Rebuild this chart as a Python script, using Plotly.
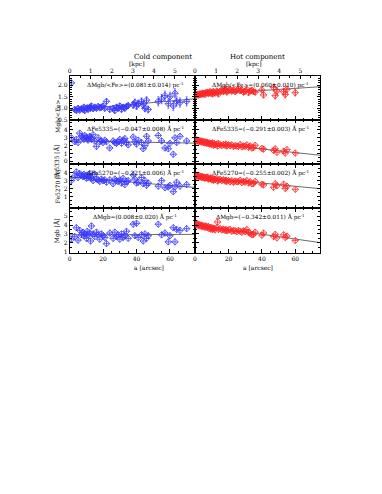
import plotly.graph_objects as go

# ---------------- data ----------------
ARCSEC_PER_KPC = 12.6
X_RANGE = [0, 75]

cold_a = [1, 3, 4, 5, 6, 7, 8, 8.5, 9, 10,
          10.5, 11, 12, 12.5, 13, 14, 15, 16, 17, 18,
          19, 20, 21, 22, 24, 26, 27, 28, 29, 30,
          31, 32, 33, 34, 35, 38, 39, 40, 41, 43,
          44, 45, 46, 47, 53, 55, 57, 59, 60, 62,
          63, 64, 66, 70]
cold_mgbfe = [2.1, 0.95, 0.9, 1.0, 0.92, 0.98, 0.95, 1.05, 0.9, 1.0,
              1.02, 0.95, 1.05, 1.0, 1.1, 0.98, 1.05, 1.0, 1.08, 1.02,
              1.05, 1.1, 1.0, 1.3, 0.95, 1.0, 0.9, 1.05, 1.0, 1.1,
              0.95, 1.05, 1.0, 1.08, 1.12, 1.15, 1.25, 1.1, 1.2, 1.3,
              1.15, 1.0, 1.35, 0.95, 1.3, 1.4, 1.55, 1.2, 1.5, 1.1,
              1.65, 1.3, 1.25, 1.3]
cold_mgbfe_err = [0.12, 0.08, 0.08, 0.08, 0.08, 0.08, 0.08, 0.08, 0.08, 0.08,
                  0.08, 0.08, 0.08, 0.08, 0.08, 0.08, 0.08, 0.08, 0.08, 0.08,
                  0.1, 0.1, 0.1, 0.1, 0.1, 0.1, 0.1, 0.1, 0.1, 0.1,
                  0.1, 0.1, 0.1, 0.1, 0.1, 0.15, 0.15, 0.15, 0.15, 0.15,
                  0.15, 0.15, 0.15, 0.15, 0.2, 0.2, 0.2, 0.2, 0.2, 0.2,
                  0.2, 0.2, 0.2, 0.2]
cold_fe5335 = [3.0, 2.5, 2.8, 2.4, 3.6, 3.2, 3.0, 2.8, 3.3, 3.1,
               2.9, 2.7, 3.2, 3.0, 2.8, 3.4, 2.6, 1.9, 3.0, 2.5,
               2.6, 2.4, 2.7, 2.5, 1.7, 2.6, 2.4, 2.3, 2.5, 2.8,
               2.3, 2.7, 2.9, 2.4, 2.1, 3.1, 2.5, 2.2, 2.7, 2.4,
               1.6, 2.0, 3.2, 2.6, 3.3, 2.6, 1.7, 1.6, 2.3, 0.9,
               3.0, 2.4, 3.2, 2.6]
cold_fe5270 = [3.0, 3.6, 4.1, 3.4, 3.9, 3.7, 3.5, 3.8, 3.6, 3.3,
               3.7, 3.4, 3.9, 3.5, 3.3, 3.0, 3.8, 3.2, 3.1, 2.9,
               3.2, 3.0, 3.1, 2.8, 3.1, 2.6, 3.2, 3.0, 2.9, 3.1,
               2.7, 3.3, 2.5, 2.9, 3.0, 3.7, 3.2, 2.7, 2.8, 3.4,
               2.6, 3.0, 2.4, 2.7, 2.3, 3.0, 2.1, 2.2, 2.4, 1.6,
               2.2, 2.8, 2.3, 2.5]
cold_mgb = [2.4, 2.7, 3.7, 2.3, 3.4, 2.9, 3.2, 2.8, 3.0, 2.5,
            3.3, 2.9, 3.1, 2.2, 3.9, 3.0, 2.7, 3.2, 2.9, 2.4,
            3.0, 2.8, 2.6, 1.9, 3.1, 2.5, 3.2, 2.7, 2.9, 2.4,
            3.0, 2.6, 2.8, 3.3, 2.5, 4.1, 2.8, 4.2, 2.6, 2.9,
            2.2, 3.0, 2.5, 2.8, 4.1, 2.9, 3.1, 2.1, 2.8, 3.7,
            2.1, 3.5, 3.4, 3.6]

hot_a = [0.5, 1, 1.5, 2, 2.5, 3, 3.5, 4, 4.5, 5,
         5.5, 6, 6.5, 7, 7.5, 8, 8.5, 9, 9.5, 10,
         10.5, 11, 11.5, 12, 13, 13.5, 14, 15, 16, 17,
         18, 18.5, 19, 20, 21, 22, 23, 24, 25, 26,
         27, 28, 29, 30, 31, 32, 33, 34, 35, 36,
         40, 41, 47, 48, 49, 53, 54, 55, 60]
hot_mgbfe = [1.55, 1.58, 1.60, 1.57, 1.62, 1.60, 1.63, 1.61, 1.66, 1.62,
             1.65, 1.60, 1.68, 1.66, 1.70, 1.64, 1.67, 1.72, 1.65, 1.70,
             1.62, 1.73, 1.68, 1.66, 1.75, 1.70, 1.62, 1.74, 1.80, 1.72,
             1.85, 1.78, 1.70, 1.76, 1.82, 1.74, 1.80, 1.72, 1.78, 1.85,
             1.76, 1.80, 1.70, 1.74, 1.82, 1.68, 1.75, 1.78, 1.72, 1.70,
             1.80, 1.58, 1.90, 1.55, 1.75, 1.72, 1.60, 1.82, 1.68]
hot_mgbfe_err = [0.05, 0.05, 0.05, 0.05, 0.05, 0.05, 0.05, 0.05, 0.05, 0.05,
                 0.05, 0.05, 0.05, 0.05, 0.05, 0.05, 0.05, 0.05, 0.05, 0.05,
                 0.06, 0.06, 0.06, 0.06, 0.06, 0.06, 0.06, 0.06, 0.07, 0.07,
                 0.07, 0.07, 0.07, 0.08, 0.08, 0.08, 0.08, 0.08, 0.08, 0.08,
                 0.09, 0.09, 0.09, 0.09, 0.09, 0.1, 0.1, 0.1, 0.1, 0.1,
                 0.12, 0.12, 0.15, 0.15, 0.15, 0.15, 0.15, 0.15, 0.15]
hot_fe5335 = [2.75, 2.6, 2.7, 2.55, 2.65, 2.5, 2.6, 2.45, 2.55, 2.4,
              2.5, 2.35, 2.45, 2.3, 2.4, 2.25, 2.35, 2.2, 2.3, 2.15,
              2.35, 2.05, 2.25, 2.1, 2.2, 1.95, 2.3, 2.1, 2.0, 2.15,
              2.05, 2.2, 1.95, 2.1, 2.0, 2.1, 1.9, 2.0, 1.95, 1.9,
              2.15, 1.85, 1.95, 1.9, 2.1, 1.8, 1.95, 1.7, 1.75, 2.05,
              1.65, 1.55, 1.4, 1.6, 1.15, 1.3, 1.05, 1.5, 1.05]
hot_fe5270 = [3.7, 3.55, 3.65, 3.5, 3.6, 3.45, 3.55, 3.4, 3.5, 3.35,
              3.45, 3.3, 3.4, 3.35, 3.45, 3.2, 3.3, 3.25, 3.35, 3.1,
              3.3, 3.05, 3.2, 3.15, 3.25, 2.95, 3.1, 3.15, 3.0, 3.1,
              2.95, 3.05, 2.9, 3.0, 2.85, 3.0, 2.8, 2.95, 2.85, 2.9,
              3.05, 2.75, 2.9, 2.8, 3.0, 2.7, 2.85, 2.6, 2.65, 2.9,
              2.55, 2.45, 2.15, 2.6, 2.35, 2.55, 2.0, 2.3, 1.9]
hot_mgb = [4.1, 4.0, 4.15, 3.95, 4.05, 3.9, 4.0, 3.85, 3.95, 3.8,
           3.9, 3.75, 3.9, 3.8, 3.7, 3.85, 3.6, 3.75, 3.55, 3.7,
           3.5, 3.65, 3.6, 3.45, 3.7, 4.35, 3.5, 3.6, 3.45, 3.55,
           3.4, 3.5, 3.35, 3.45, 3.5, 3.3, 3.4, 3.35, 3.25, 3.4,
           3.3, 3.2, 3.35, 3.25, 3.5, 3.15, 3.05, 2.9, 2.95, 3.2,
           2.85, 3.1, 2.7, 2.95, 2.55, 2.9, 2.6, 2.75, 2.25]

row_titles = ["Mgb/&lt;Fe&gt;", "Fe5335 [Å]", "Fe5270 [Å]", "Mgb [Å]"]
row_names = ["Mgb/&lt;Fe&gt;", "Fe5335", "Fe5270", "Mgb"]
row_units = ["", " Å", " Å", " Å"]
y_ranges = [[0.5, 2.42], [-0.35, 5.3], [-0.5, 5.1], [0.9, 5.9]]
y_tickvals = [[0.5, 1.0, 1.5, 2.0], [0, 1, 2, 3, 4], [1, 2, 3, 4], [1, 2, 3, 4, 5]]
y_ticktext = [["0.5", "1.0", "1.5", "2.0"], ["0", "1", "2", "3", "4"],
              ["1", "2", "3", "4"], ["1", "2", "3", "4", "5"]]
cold_intercepts = [0.93, 2.6, 3.45, 2.9]
cold_slopes = [0.081, -0.047, -0.221, 0.008]
cold_slope_err = [0.014, 0.008, 0.006, 0.020]
hot_intercepts = [1.58, 2.5, 3.5, 4.05]
hot_slopes = [0.060, -0.291, -0.255, -0.342]
hot_slope_err = [0.010, 0.003, 0.002, 0.011]
x_tickvals = [0, 20, 40, 60]
kpc_tickvals = [0, 1, 2, 3, 4, 5]
component_titles = ["Cold component", "Hot component"]

# ---------------- layout geometry ----------------
W, H = 382, 494
FONT = "DejaVu Serif"
col_px = [(60, 186), (186, 312)]
row_px = [(68, 112.5), (112.5, 157), (157, 201.5), (201.5, 246)]
def px(x):
    return x / W
def py(y):
    return 1 - y / H

blue = "rgb(55,55,255)"
red = "rgb(255,40,40)"
colors = [blue, red]
xs = [cold_a, hot_a]
ys = [[cold_mgbfe, cold_fe5335, cold_fe5270, cold_mgb],
      [hot_mgbfe, hot_fe5335, hot_fe5270, hot_mgb]]
errs = [cold_mgbfe_err, hot_mgbfe_err]
intercepts = [cold_intercepts, hot_intercepts]
slopes = [cold_slopes, hot_slopes]
slope_errs = [cold_slope_err, hot_slope_err]

fig = go.Figure()
layout = dict(width=W, height=H, margin=dict(l=0, r=0, t=0, b=0),
              paper_bgcolor="white", plot_bgcolor="white", showlegend=False,
              font=dict(family=FONT, size=6, color="black"))
annotations = []

axis_common = dict(showline=True, linecolor="black", linewidth=1, ticks="inside",
                   ticklen=3.5, tickwidth=0.7, tickcolor="black", showgrid=False,
                   zeroline=False, tickfont=dict(family=FONT, size=6))

def fmt(v):
    return ("%.3f" % v).replace("-", "−")

for r in range(4):
    for c in range(2):
        idx = r * 2 + c + 1
        xa = "x" if idx == 1 else "x%d" % idx
        ya = "y" if idx == 1 else "y%d" % idx
        # fit line
        fit_y = [intercepts[c][r] + slopes[c][r] * xv / ARCSEC_PER_KPC for xv in X_RANGE]
        fig.add_trace(go.Scatter(x=X_RANGE, y=fit_y, mode="lines",
                                 line=dict(color="rgb(70,70,70)", width=0.8),
                                 xaxis=xa, yaxis=ya, hoverinfo="skip"))
        tr = dict(x=xs[c], y=ys[c][r], mode="markers",
                  marker=dict(symbol="diamond-cross-open", size=5, color=colors[c],
                              line=dict(width=0.8, color=colors[c])),
                  xaxis=xa, yaxis=ya)
        if r == 0:
            tr["error_y"] = dict(type="data", array=errs[c], color=colors[c],
                                 thickness=0.6, width=1)
        fig.add_trace(go.Scatter(**tr))

        x0, x1 = col_px[c]
        yt, yb = row_px[r]
        xd = dict(axis_common, domain=[px(x0), px(x1)], range=X_RANGE,
                  anchor=ya, tickvals=x_tickvals,
                  minor=dict(ticks="inside", ticklen=2, dtick=5, tickcolor="black", tickwidth=0.6),
                  showticklabels=(r == 3), mirror=(True if r == 0 else "ticks"))
        yd = dict(axis_common, domain=[py(yb), py(yt)], range=y_ranges[r],
                  anchor=xa, tickvals=y_tickvals[r], ticktext=y_ticktext[r],
                  minor=dict(ticks="inside", ticklen=2, tickcolor="black", tickwidth=0.6,
                             dtick=(0.1 if r == 0 else 0.5)),
                  showticklabels=(c == 0), mirror="ticks")
        layout["xaxis" if idx == 1 else "xaxis%d" % idx] = xd
        layout["yaxis" if idx == 1 else "yaxis%d" % idx] = yd

        unit = row_units[r]
        txt = "Δ%s=(%s±%s)%s pc<sup>-1</sup>" % (row_names[r], fmt(slopes[c][r]),
                                                  fmt(slope_errs[c][r]), unit)
        annotations.append(dict(text=txt, x=px((x0 + x1) / 2 + 3), y=py(yt + 9),
                                xref="paper", yref="paper", showarrow=False,
                                font=dict(family=FONT, size=5.8), xanchor="center",
                                yanchor="middle"))

# top kpc axes
for c in range(2):
    base = "x" if c == 0 else "x2"
    name = "xaxis%d" % (9 + c)
    layout[name] = dict(axis_common, overlaying=base, anchor="y" if c == 0 else "y2",
                        side="top", range=[X_RANGE[0] / ARCSEC_PER_KPC, X_RANGE[1] / ARCSEC_PER_KPC],
                        tickvals=kpc_tickvals, showline=False,
                        minor=dict(ticks="inside", ticklen=2, dtick=0.5, tickcolor="black", tickwidth=0.6))
    fig.add_trace(go.Scatter(x=kpc_tickvals, y=[None] * len(kpc_tickvals), mode="markers",
                             xaxis="x%d" % (9 + c), yaxis="y" if c == 0 else "y2",
                             hoverinfo="skip", showlegend=False))
    x0, x1 = col_px[c]
    cx = (x0 + x1) / 2
    annotations.append(dict(text=component_titles[c], x=px(cx), y=py(43), xref="paper", yref="paper",
                            showarrow=False, font=dict(family=FONT, size=7)))
    annotations.append(dict(text="[kpc]", x=px(cx - 4), y=py(51), xref="paper", yref="paper",
                            showarrow=False, font=dict(family=FONT, size=6), borderpad=0))
    annotations.append(dict(text="a [arcsec]", x=px(cx), y=py(261), xref="paper", yref="paper",
                            showarrow=False, font=dict(family=FONT, size=6)))

for r in range(4):
    yt, yb = row_px[r]
    annotations.append(dict(text=row_titles[r], x=px(42), y=py((yt + yb) / 2), xref="paper",
                            yref="paper", showarrow=False, textangle=-90,
                            font=dict(family=FONT, size=6)))

layout["annotations"] = annotations
fig.update_layout(**layout)
fig.write_html("out.html")
